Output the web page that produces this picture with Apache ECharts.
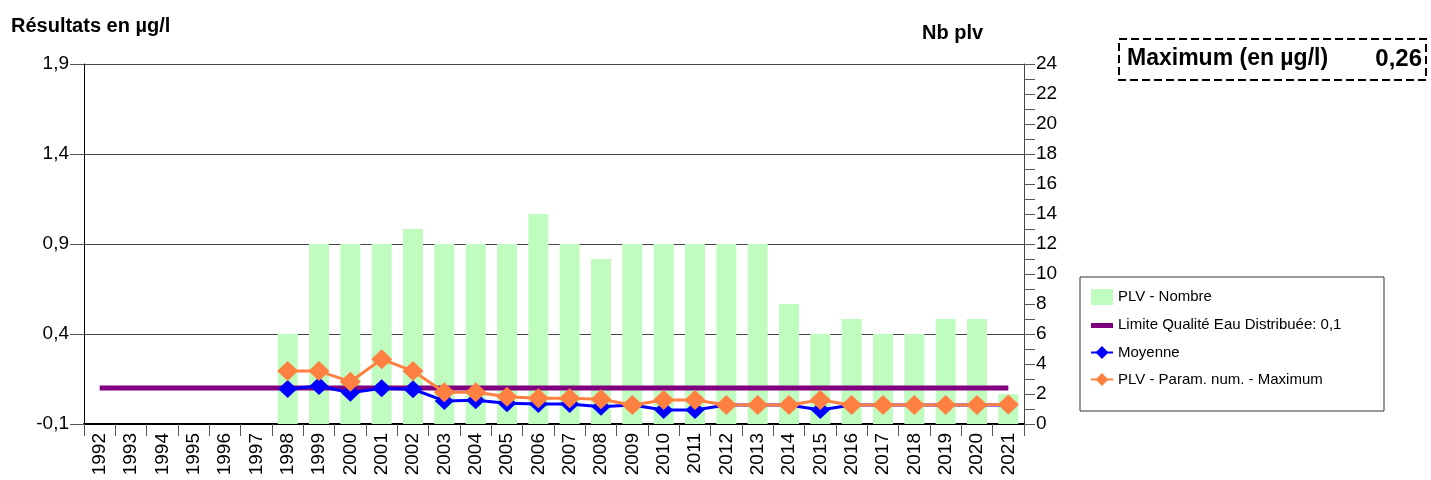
<!DOCTYPE html>
<html>
<head>
<meta charset="utf-8">
<script src="https://cdn.jsdelivr.net/npm/echarts@6/dist/echarts.min.js"></script>
<style>
  html, body { margin: 0; padding: 0; background: #fff; }
  #main { width: 1431px; height: 480px; }
</style>
</head>
<body>
<div id="main"></div>
<script>
// années
var annees = ['1992','1993','1994','1995','1996','1997','1998','1999','2000','2001',
              '2002','2003','2004','2005','2006','2007','2008','2009','2010','2011',
              '2012','2013','2014','2015','2016','2017','2018','2019','2020','2021'];
// nombre de prélèvements
var nbPlv = [null,null,null,null,null,null,6,12,12,12,
             13,12,12,12,14,12,11,12,12,12,
             12,12,8,6,7,6,6,7,7,2];
// limite qualité
var limite = [0.1,0.1,0.1,0.1,0.1,0.1,0.1,0.1,0.1,0.1,
              0.1,0.1,0.1,0.1,0.1,0.1,0.1,0.1,0.1,0.1,
              0.1,0.1,0.1,0.1,0.1,0.1,0.1,0.1,0.1,0.1];
// moyenne
var moyenne = [null,null,null,null,null,null,0.094,0.111,0.074,0.098,
               0.093,0.028,0.032,0.015,0.011,0.011,-0.004,0.006,-0.022,-0.022,
               0.006,0.006,0.006,-0.022,0.006,0.006,0.006,0.006,0.006,0.006];
// maximum
var maximum = [null,null,null,null,null,null,0.194,0.194,0.135,0.26,
               0.194,0.076,0.076,0.052,0.043,0.043,0.037,0.006,0.033,0.033,
               0.006,0.006,0.006,0.033,0.006,0.006,0.006,0.006,0.006,0.008];
var maxGlobal = '0,26';

var police = 'Liberation Sans, Arial, sans-serif';
var chart = echarts.init(document.getElementById('main'));

var option = {
    animation: false,
    textStyle: { fontFamily: police },
    grid: { left: 84, right: 407, top: 64, bottom: 56 },
    legend: {
        orient: 'vertical',
        left: 1085,
        top: 284,
        itemWidth: 22,
        itemHeight: 16,
        itemGap: 12,
        textStyle: { fontSize: 15, color: '#000', fontFamily: police },
        data: [
            { name: 'PLV - Nombre', icon: 'rect' },
            { name: 'Limite Qualité Eau Distribuée: 0,1', icon: 'path://M0,0 M22,16 M0,6 L22,6 L22,11 L0,11 Z' },
            { name: 'Moyenne' },
            { name: 'PLV - Param. num. - Maximum' }
        ]
    },
    xAxis: {
        type: 'category',
        data: annees,
        boundaryGap: true,
        axisLine: { onZero: false, lineStyle: { color: '#000', width: 2 } },
        axisTick: { show: true, length: 12, interval: 0, lineStyle: { color: '#555' } },
        axisLabel: { rotate: 90, interval: 0, fontSize: 19, color: '#000', margin: 9 }
    },
    yAxis: [{
        type: 'value',
        min: -0.1,
        max: 1.9,
        interval: 0.5,
        axisLine: { show: true, lineStyle: { color: '#000' } },
        axisTick: { show: true, length: 14, lineStyle: { color: '#555' } },
        axisLabel: {
            fontSize: 19, color: '#000', margin: 15,
            formatter: function (v) { return v.toFixed(1).replace('.', ','); }
        },
        splitLine: { show: true, lineStyle: { color: '#444' } }
    }, {
        type: 'value',
        min: 0,
        max: 24,
        interval: 1,
        position: 'right',
        axisLine: { show: true, lineStyle: { color: '#444' } },
        axisTick: { show: true, length: 11, lineStyle: { color: '#555' } },
        axisLabel: {
            fontSize: 19, color: '#000', margin: 12,
            formatter: function (v) { return v % 2 === 0 ? String(v) : ''; }
        },
        splitLine: { show: false }
    }],
    series: [{
        name: 'PLV - Nombre',
        type: 'bar',
        yAxisIndex: 1,
        data: nbPlv,
        barWidth: '64%',
        itemStyle: { color: '#c0fcc0' },
        z: 1
    }, {
        name: 'Limite Qualité Eau Distribuée: 0,1',
        type: 'line',
        data: limite,
        symbol: 'none',
        lineStyle: { color: '#800080', width: 5 },
        itemStyle: { color: '#800080' },
        z: 2
    }, {
        name: 'Moyenne',
        type: 'line',
        data: moyenne,
        symbol: 'diamond',
        symbolSize: [19, 18],
        lineStyle: { color: '#0000ff', width: 3 },
        itemStyle: { color: '#0000ff' },
        z: 3
    }, {
        name: 'PLV - Param. num. - Maximum',
        type: 'line',
        data: maximum,
        symbol: 'diamond',
        symbolSize: [21, 20],
        lineStyle: { color: '#ff8040', width: 3 },
        itemStyle: { color: '#ff8040' },
        z: 4
    }],
    graphic: [{
        type: 'text',
        left: 11,
        top: 16,
        style: { text: 'Résultats en µg/l', font: 'bold 20px ' + police, fill: '#000' }
    }, {
        type: 'text',
        left: 922,
        top: 23,
        style: { text: 'Nb plv', font: 'bold 20px ' + police, fill: '#000' }
    }, {
        type: 'rect',
        shape: { x: 1080, y: 277, width: 304, height: 134 },
        style: { fill: 'none', stroke: '#333', lineWidth: 1 }
    }, {
        type: 'rect',
        shape: { x: 1119, y: 39, width: 307, height: 41 },
        style: { fill: 'none', stroke: '#000', lineWidth: 2, lineDash: [8, 4] }
    }, {
        type: 'text',
        left: 1127,
        top: 47,
        style: { text: 'Maximum (en µg/l)', font: 'bold 23px ' + police, fill: '#000' }
    }, {
        type: 'text',
        right: 9,
        top: 47,
        style: { text: maxGlobal, font: 'bold 24px ' + police, fill: '#000' }
    }]
};
chart.setOption(option);
</script>
</body>
</html>
